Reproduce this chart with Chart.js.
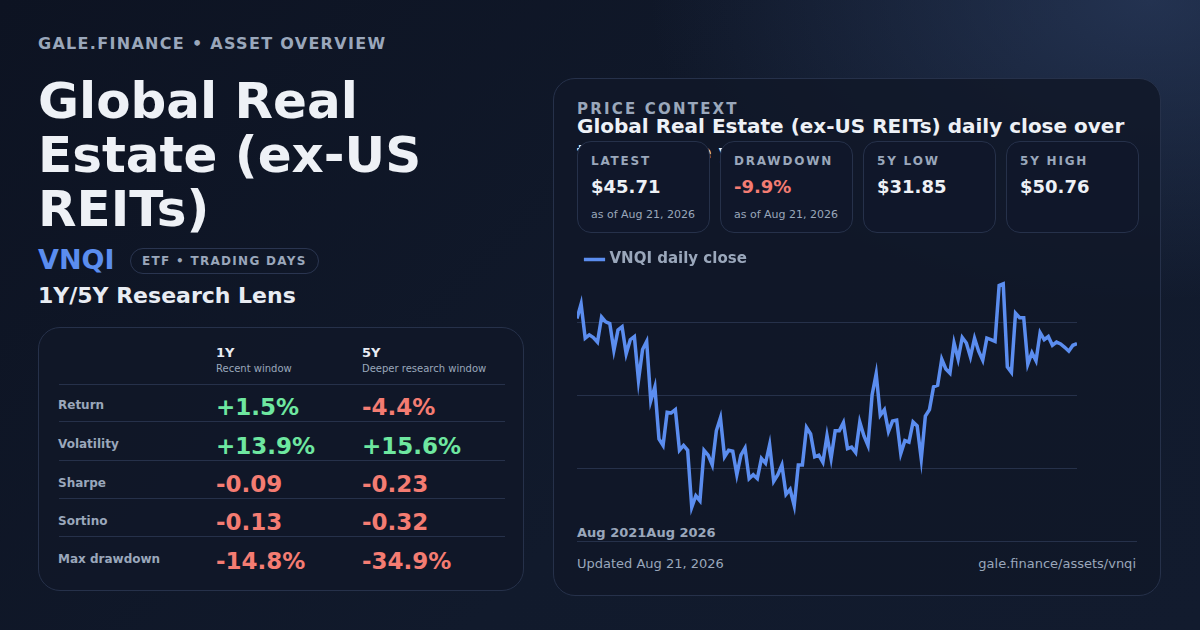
<!DOCTYPE html>
<html><head><meta charset="utf-8">
<script src="https://cdn.jsdelivr.net/npm/chart.js@4"></script>
<style>
*{margin:0;padding:0;box-sizing:border-box}
body{width:1200px;height:630px;overflow:hidden;font-family:"DejaVu Sans",sans-serif;color:#e8ecf3;
background:radial-gradient(ellipse 500px 300px at 1150px 0px,rgba(50,70,110,0.55),rgba(0,0,0,0)),linear-gradient(135deg,#0d1322 0%,#111a2c 60%,#121b2e 100%);position:relative}
.abs{position:absolute}
.kicker{left:38px;top:34px;font-size:16px;font-weight:bold;letter-spacing:1.3px;color:#9aa7bb}
.title{left:38px;top:74px;font-size:50px;font-weight:bold;line-height:54px;color:#eef1f6;width:440px}
.ticker{left:38px;top:244px;font-size:27px;font-weight:bold;color:#5b8def}
.pill{left:130px;top:248px;height:26px;padding:0 11px;border:1px solid #2a3550;border-radius:14px;font-size:12px;font-weight:bold;letter-spacing:1.3px;color:#9aa7bb;line-height:24px}
.lens{left:38px;top:283px;font-size:22px;font-weight:bold;color:#e8ecf3}
.card{border:1px solid #26314a;border-radius:22px;background:rgba(17,24,40,0.85)}
.row{position:absolute;left:20px;right:18px;border-top:1px solid #26314a}
.lbl{position:absolute;left:19px;font-size:12px;font-weight:bold;color:#9aa7bb}
.val{position:absolute;font-size:23px;font-weight:bold}
.g{color:#6ee7a0}.r{color:#f47c72}
.stat{position:absolute;top:141px;height:92px;width:133px;border:1px solid #26314a;border-radius:14px;background:#10172a}
.stat .h{position:absolute;left:13px;top:12px;font-size:12px;font-weight:bold;letter-spacing:1.8px;color:#9aa7bb}
.stat .v{position:absolute;left:13px;top:34px;font-size:18px;font-weight:bold;color:#eef1f6}
.stat .s{position:absolute;left:13px;top:66px;font-size:11px;color:#9aa7bb}
</style></head><body>
<div class="abs kicker">GALE.FINANCE • ASSET OVERVIEW</div>
<div class="abs title">Global Real Estate (ex-US REITs)</div>
<div class="abs ticker">VNQI</div>
<div class="abs pill">ETF • TRADING DAYS</div>
<div class="abs lens">1Y/5Y Research Lens</div>

<div class="abs card" style="left:38px;top:327px;width:486px;height:264px">
  <div class="abs" style="left:177px;top:17px;font-size:13px;font-weight:bold">1Y</div>
  <div class="abs" style="left:177px;top:35px;font-size:10px;color:#9aa7bb">Recent window</div>
  <div class="abs" style="left:323px;top:17px;font-size:13px;font-weight:bold">5Y</div>
  <div class="abs" style="left:323px;top:35px;font-size:10px;color:#9aa7bb">Deeper research window</div>
  <div class="row" style="top:56px"></div>
  <div class="row" style="top:93px"></div>
  <div class="row" style="top:132px"></div>
  <div class="row" style="top:170px"></div>
  <div class="row" style="top:208px"></div>
  <div class="lbl" style="top:70px">Return</div><div class="val g" style="left:177px;top:66px">+1.5%</div><div class="val r" style="left:323px;top:66px">-4.4%</div>
  <div class="lbl" style="top:109px">Volatility</div><div class="val g" style="left:177px;top:105px">+13.9%</div><div class="val g" style="left:323px;top:105px">+15.6%</div>
  <div class="lbl" style="top:148px">Sharpe</div><div class="val r" style="left:177px;top:143px">-0.09</div><div class="val r" style="left:323px;top:143px">-0.23</div>
  <div class="lbl" style="top:186px">Sortino</div><div class="val r" style="left:177px;top:181px">-0.13</div><div class="val r" style="left:323px;top:181px">-0.32</div>
  <div class="lbl" style="top:224px">Max drawdown</div><div class="val r" style="left:177px;top:220px">-14.8%</div><div class="val r" style="left:323px;top:220px">-34.9%</div>
</div>

<div class="abs card" style="left:553px;top:78px;width:608px;height:518px"></div>
<div class="abs" style="left:577px;top:100px;font-size:15px;font-weight:bold;letter-spacing:2.2px;color:#9aa7bb">PRICE CONTEXT</div>
<div class="abs" style="left:577px;top:113px;font-size:20px;font-weight:bold;color:#eef1f6;width:570px;line-height:26px">Global Real Estate (ex-US REITs) daily close over the last five years</div>
<div class="stat" style="left:577px"><div class="h">LATEST</div><div class="v">$45.71</div><div class="s">as of Aug 21, 2026</div></div>
<div class="stat" style="left:720px"><div class="h">DRAWDOWN</div><div class="v" style="color:#f47c72">-9.9%</div><div class="s">as of Aug 21, 2026</div></div>
<div class="stat" style="left:863px"><div class="h">5Y LOW</div><div class="v">$31.85</div></div>
<div class="stat" style="left:1006px"><div class="h">5Y HIGH</div><div class="v">$50.76</div></div>
<div class="abs" style="left:577px;top:242px;width:500px;height:280px"><canvas id="c"></canvas></div>
<div class="abs" style="left:577px;top:525px;font-size:13px;font-weight:bold;color:#9aa7bb">Aug 2021Aug 2026</div>
<div class="abs" style="left:577px;top:541px;width:560px;border-top:1px solid #26314a"></div>
<div class="abs" style="left:577px;top:556px;font-size:13px;color:#9aa7bb">Updated Aug 21, 2026</div>
<div class="abs" style="right:64px;top:556px;font-size:13px;color:#9aa7bb">gale.finance/assets/vnqi</div>
<script>
const seriesName = "VNQI daily close";
const closes = [47.82,49.06,46.16,46.44,46.22,45.83,47.95,47.54,47.40,45.12,46.85,47.13,44.84,46.03,46.30,42.59,45.20,45.89,40.85,42.04,37.63,37.08,39.89,39.83,40.11,36.67,37.08,36.67,31.85,32.82,32.40,36.67,36.26,35.43,38.32,39.42,36.12,36.67,36.59,34.60,36.26,36.86,34.27,34.60,34.27,35.98,35.57,37.14,34.05,34.60,35.43,32.95,33.37,31.99,35.43,35.43,38.60,38.05,36.12,36.26,35.65,37.91,35.98,38.32,38.32,39.01,36.81,36.94,36.48,39.06,37.91,37.08,41.35,43.14,39.64,40.11,38.27,39.15,39.23,36.39,37.49,37.36,39.06,38.73,35.93,39.56,40.11,42.04,42.17,44.38,43.55,43.19,45.75,44.38,46.22,45.75,44.57,46.16,45.06,44.29,46.16,46.03,45.89,50.62,50.76,43.74,43.27,48.28,47.90,47.90,43.96,44.93,44.24,46.63,46.03,46.30,45.56,45.83,45.67,45.39,45.06,45.56,45.71];
const dates = closes.map((_, i) => i === 0 ? "Aug 2021" : (i === closes.length - 1 ? "Aug 2026" : ""));
const gridValues = [35.15, 41.3, 47.45];
new Chart(document.getElementById('c'), {
  type: 'line',
  data: { labels: dates, datasets: [{ label: seriesName, data: closes, borderColor: '#5b8def', borderWidth: 3.5, pointRadius: 0, tension: 0 }] },
  options: {
    responsive: true, maintainAspectRatio: false, animation: false,
    layout: { padding: 0 },
    plugins: { tooltip: { enabled: false },
      legend: { align: 'start', labels: { color: '#9aa7bb', font: { family: 'DejaVu Sans', size: 15, weight: 'bold' }, usePointStyle: true, pointStyle: 'line', boxWidth: 16, padding: 10 } } },
    scales: {
      x: { display: false },
      y: { display: true, min: 30.6, max: 51.34, border: { display: false }, ticks: { display: false },
        grid: { color: '#26314a', drawTicks: false },
        afterBuildTicks: (s) => { s.ticks = gridValues.map(v => ({ value: v })); } }
    }
  }
});
</script>
</body></html>
